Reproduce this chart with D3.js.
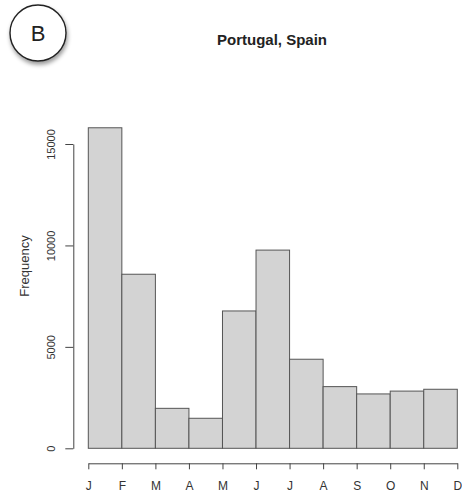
<!DOCTYPE html>
<html>
<head>
<meta charset="utf-8">
<script src="https://cdn.jsdelivr.net/npm/d3@7"></script>
<style>
    html, body { margin: 0; padding: 0; background: #fff; }
    svg { display: block; font-family: "Liberation Sans", Arial, sans-serif; }
</style>
</head>
<body>
<div id="chart"></div>
<script>
var monthLabels = ['J', 'F', 'M', 'A', 'M', 'J', 'J', 'A', 'S', 'O', 'N', 'D'];
var frequency = [15800, 8580, 1970, 1480, 6770, 9770, 4390, 3040, 2680, 2820, 2910];
var yTicks = [0, 5000, 10000, 15000];
var title = 'Portugal, Spain';
var panelLetter = 'B';

var width = 462;
var height = 494;

var svg = d3.select('#chart').append('svg')
    .attr('width', width)
    .attr('height', height);

var defs = svg.append('defs');
var shadow = defs.append('filter')
    .attr('id', 'shadow')
    .attr('x', '-30%').attr('y', '-30%')
    .attr('width', '160%').attr('height', '160%');
shadow.append('feDropShadow')
    .attr('dx', 1)
    .attr('dy', 3)
    .attr('stdDeviation', 2)
    .attr('flood-color', '#000')
    .attr('flood-opacity', 0.4);

// panel badge
svg.append('circle')
    .attr('cx', 38)
    .attr('cy', 33)
    .attr('r', 28)
    .attr('fill', '#fff')
    .attr('stroke', '#222')
    .attr('stroke-width', 1.4)
    .attr('filter', 'url(#shadow)');
svg.append('text')
    .attr('x', 38)
    .attr('y', 41)
    .attr('text-anchor', 'middle')
    .attr('font-size', 22)
    .attr('fill', '#222')
    .text(panelLetter);

svg.append('text')
    .attr('x', 272)
    .attr('y', 45)
    .attr('text-anchor', 'middle')
    .attr('font-size', 15)
    .attr('font-weight', 'bold')
    .attr('fill', '#222')
    .text(title);

var x = d3.scaleLinear()
    .domain([0, monthLabels.length - 1])
    .range([88.3, 457.3]);

var y = d3.scaleLinear()
    .domain([0, 15000])
    .range([448.3, 144]);

// bars
svg.append('g')
    .selectAll('rect')
    .data(frequency)
    .enter().append('rect')
    .attr('x', function(d, i) {
        return x(i);
    })
    .attr('width', function(d, i) {
        return x(i + 1) - x(i);
    })
    .attr('y', function(d) {
        return y(d);
    })
    .attr('height', function(d) {
        return y(0) - y(d);
    })
    .attr('fill', '#d3d3d3')
    .attr('stroke', '#555')
    .attr('stroke-width', 1);

// y axis
var yAxis = svg.append('g')
    .attr('transform', 'translate(73.3,0)')
    .call(d3.axisLeft(y).tickValues(yTicks).tickSize(8).tickSizeOuter(0).tickFormat(d3.format('d')));
yAxis.select('.domain').attr('stroke', '#444');
yAxis.selectAll('.tick line').attr('stroke', '#444');
yAxis.selectAll('.tick text')
    .attr('font-size', 11)
    .attr('fill', '#333')
    .attr('text-anchor', 'middle')
    .attr('transform', 'rotate(-90)')
    .attr('x', 0)
    .attr('y', -18)
    .attr('dy', 0)
    .attr('dx', 0);

// x axis
var xAxis = svg.append('g')
    .attr('transform', 'translate(0,463.3)')
    .call(d3.axisBottom(x).tickValues(d3.range(monthLabels.length)).tickSize(6).tickSizeOuter(0)
        .tickFormat(function(d) {
            return monthLabels[d];
        }));
xAxis.select('.domain').attr('stroke', '#444');
xAxis.selectAll('.tick line').attr('stroke', '#444');
xAxis.selectAll('.tick text')
    .attr('font-size', 12)
    .attr('fill', '#333')
    .attr('y', 18)
    .attr('dy', '0.71em');

svg.append('text')
    .attr('transform', 'translate(29,266) rotate(-90)')
    .attr('text-anchor', 'middle')
    .attr('font-size', 13)
    .attr('fill', '#333')
    .text('Frequency');
</script>
</body>
</html>
